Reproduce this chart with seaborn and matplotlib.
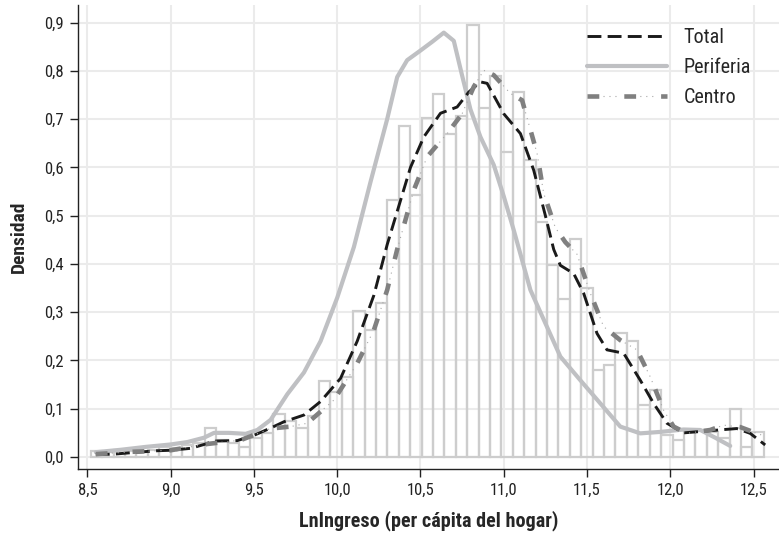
import matplotlib
matplotlib.use("Agg")
import matplotlib.pyplot as plt
import seaborn as sns
import numpy as np
import pandas as pd
from matplotlib.ticker import FuncFormatter, MultipleLocator

# histogram of LnIngreso (bin heights)
bin_start = 8.52
bin_width = 0.0685
hist_heights = [
    0.012, 0.010, 0.015, 0.012, 0.010, 0.015, 0.020, 0.018, 0.025, 0.030,
    0.060, 0.035, 0.030, 0.020, 0.040, 0.050, 0.090, 0.075, 0.060, 0.085,
    0.158, 0.135, 0.166, 0.302, 0.263, 0.318, 0.532, 0.686, 0.542, 0.702,
    0.751, 0.669, 0.706, 0.894, 0.722, 0.789, 0.632, 0.756, 0.615, 0.487,
    0.397, 0.327, 0.452, 0.350, 0.180, 0.190, 0.257, 0.240, 0.108, 0.139,
    0.046, 0.036, 0.055, 0.055, 0.052, 0.039, 0.099, 0.021, 0.052,
]

# density curves
total_x = [8.55, 8.66, 8.80, 8.92, 9.00, 9.12, 9.20, 9.26, 9.40, 9.50, 9.60, 9.68,
           9.80, 9.90, 10.02, 10.12, 10.22, 10.30, 10.44, 10.52, 10.62, 10.72, 10.79,
           10.86, 10.90, 11.00, 11.10, 11.18, 11.25, 11.30, 11.34, 11.42, 11.48, 11.56,
           11.62, 11.72, 11.82, 11.90, 11.98, 12.08, 12.22, 12.40, 12.48, 12.57]
total_y = [0.005, 0.006, 0.010, 0.013, 0.014, 0.018, 0.026, 0.033, 0.034, 0.045, 0.060, 0.073,
           0.087, 0.115, 0.163, 0.240, 0.335, 0.440, 0.600, 0.663, 0.712, 0.725, 0.756,
           0.777, 0.774, 0.711, 0.670, 0.594, 0.500, 0.430, 0.397, 0.380, 0.339, 0.256,
           0.222, 0.215, 0.159, 0.111, 0.070, 0.050, 0.054, 0.059, 0.049, 0.025]

peri_x = [8.55, 8.70, 8.85, 9.00, 9.10, 9.20, 9.26, 9.35, 9.45, 9.52, 9.60, 9.70, 9.80,
          9.90, 10.00, 10.10, 10.20, 10.30, 10.36, 10.42, 10.50, 10.57, 10.64, 10.70,
          10.75, 10.80, 10.86, 10.94, 11.00, 11.06, 11.16, 11.22, 11.34, 11.46, 11.58,
          11.70, 11.82, 11.94, 12.08, 12.18, 12.27, 12.36]
peri_y = [0.010, 0.015, 0.021, 0.026, 0.031, 0.040, 0.050, 0.050, 0.048, 0.056, 0.077, 0.130,
          0.175, 0.240, 0.330, 0.435, 0.570, 0.700, 0.787, 0.822, 0.842, 0.860, 0.879,
          0.862, 0.790, 0.720, 0.663, 0.605, 0.540, 0.470, 0.346, 0.300, 0.208, 0.159,
          0.111, 0.063, 0.049, 0.052, 0.057, 0.056, 0.040, 0.023]

centro_x = [8.55, 8.78, 9.00, 9.22, 9.42, 9.60, 9.72, 9.82, 9.98, 10.12, 10.22, 10.30,
            10.36, 10.46, 10.54, 10.66, 10.75, 10.82, 10.88, 10.94, 11.04, 11.11, 11.20,
            11.24, 11.31, 11.37, 11.44, 11.52, 11.60, 11.70, 11.80, 11.88, 11.96, 12.02,
            12.10, 12.24, 12.32, 12.42, 12.52, 12.57]
centro_y = [0.006, 0.011, 0.014, 0.027, 0.035, 0.059, 0.063, 0.070, 0.118, 0.194, 0.263, 0.346,
            0.430, 0.553, 0.622, 0.670, 0.711, 0.767, 0.801, 0.791, 0.753, 0.739, 0.629,
            0.546, 0.475, 0.445, 0.420, 0.339, 0.270, 0.242, 0.222, 0.166, 0.097, 0.063,
            0.049, 0.056, 0.066, 0.062, 0.049, 0.043]

sns.set_theme(style="whitegrid")
plt.rcParams['font.family'] = ['Liberation Sans Narrow', 'Roboto Condensed', 'DejaVu Sans']
plt.rcParams['lines.scale_dashes'] = False

fig = plt.figure(figsize=(7.79, 5.40), dpi=100)
ax = fig.add_axes([0.1001, 0.1315, 0.8999, 0.859])

n_bins = len(hist_heights)
bin_end = bin_start + bin_width * n_bins
centers = bin_start + bin_width * (np.arange(n_bins) + 0.5)
hist_df = pd.DataFrame({"x": centers, "h": hist_heights})
sns.histplot(data=hist_df, x="x", weights="h", bins=n_bins, binrange=(bin_start, bin_end),
             fill=False, color="#cdcdcd", linewidth=1.6, ax=ax)

peri_line = sns.lineplot(x=peri_x, y=peri_y, color="#bfc0c3", linewidth=3.0,
                         ax=ax, errorbar=None).lines[-1]
total_line = sns.lineplot(x=total_x, y=total_y, color="#1a1a1a", linewidth=2.1,
                          linestyle=(0, (10.0, 4.5)), ax=ax, errorbar=None).lines[-1]
centro_thin = sns.lineplot(x=centro_x, y=centro_y, color="#a8a8a8", linewidth=0.8,
                           linestyle=(15, (0.8, 3.5, 0.8, 3.5, 0.8, 17.1)),
                           ax=ax, errorbar=None).lines[-1]
centro_thick = sns.lineplot(x=centro_x, y=centro_y, color="#808080", linewidth=3.3,
                            linestyle=(0, (8.5, 18.0)), ax=ax, errorbar=None).lines[-1]

ax.set_xlim(8.443, 12.653)
ax.set_ylim(-0.0248, 0.936)
ax.xaxis.set_major_locator(MultipleLocator(0.5))
ax.yaxis.set_major_locator(MultipleLocator(0.1))
comma = FuncFormatter(lambda v, p: f"{v:.1f}".replace(".", ","))
ax.xaxis.set_major_formatter(comma)
ax.yaxis.set_major_formatter(comma)

ax.grid(True, color="#ebebeb", linewidth=1.5)
for s in ["top", "right"]:
    ax.spines[s].set_visible(False)
for s in ["left", "bottom"]:
    ax.spines[s].set_color("#222222")
    ax.spines[s].set_linewidth(1.0)
ax.tick_params(axis="both", which="major", direction="out", length=6, width=1, pad=4,
               color="#222222", labelsize=12, labelcolor="#222222", bottom=True, left=True)

ax.set_xlabel("LnIngreso (per cápita del hogar)", fontsize=14.5, fontweight="bold", labelpad=9)
ax.set_ylabel("Densidad", fontsize=14, fontweight="bold", labelpad=12)

ax.legend([total_line, peri_line, (centro_thin, centro_thick)],
          ["Total", "Periferia", "Centro"],
          loc="upper left", bbox_to_anchor=(0.70, 0.99), frameon=False,
          fontsize=14.5, handlelength=4.0, labelspacing=0.55, handletextpad=0.8)

fig.savefig("out.png", dpi=100)
